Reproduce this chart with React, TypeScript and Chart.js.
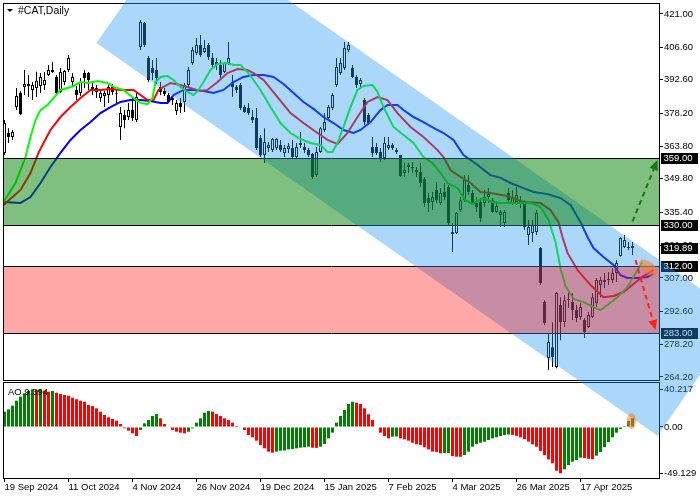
import React, { useEffect, useRef } from 'react';
import { Chart, registerables } from 'chart.js';

Chart.register(...registerables);

const FONT = 'Liberation Sans';

const dateLabels = ['19 Sep 2024', '11 Oct 2024', '4 Nov 2024', '26 Nov 2024', '19 Dec 2024', '15 Jan 2025', '7 Feb 2025', '4 Mar 2025', '26 Mar 2025', '17 Apr 2025'];
const dateTickBars = [0, 16, 32, 48, 64, 80, 96, 112, 128, 144];
const priceTicks = [421, 406.6, 392.6, 378.2, 363.8, 349.8, 335.4, 321, 307, 292.6, 278.2, 264.2];
const aoTicks = [40.217, 0, -49.129];

const opens = [
  361.0, 369.6, 367.9, 380.8, 386.9, 389.5, 390.8, 388.2, 389.0, 389.9,
  390.3, 394.6, 396.8, 393.8, 387.3, 391.6, 396.8, 391.6, 388.2, 386.9,
  395.5, 395.5, 389.5, 389.0, 384.7, 385.6, 386.0, 389.5, 387.0, 372.2,
  377.4, 376.5, 379.5, 375.2, 406.7, 417.1, 402.0, 397.7, 396.8, 389.5,
  387.7, 386.0, 384.7, 379.1, 382.6, 383.0, 390.3, 399.8, 404.2, 407.6,
  404.6, 407.6, 402.0, 400.3, 399.0, 395.9, 399.8, 391.6, 389.5, 390.3,
  380.8, 380.4, 376.5, 376.1, 367.4, 360.1, 363.1, 362.2, 363.1, 364.4,
  361.0, 362.7, 363.1, 359.2, 364.4, 363.5, 362.2, 360.5, 351.4, 361.4,
  370.9, 376.1, 380.4, 390.3, 395.5, 397.7, 405.4, 397.7, 393.8, 390.8,
  383.8, 377.4, 363.5, 363.5, 361.4, 358.8, 363.1, 364.4, 362.2, 360.1,
  352.3, 355.8, 354.9, 353.6, 352.7, 349.7, 341.5, 339.8, 345.0, 339.4,
  344.1, 346.3, 326.8, 326.4, 336.3, 340.6, 347.1, 343.7, 339.4, 339.8,
  339.4, 341.9, 340.6, 335.5, 334.2, 330.7, 343.7, 339.4, 339.8, 339.4,
  339.4, 325.5, 326.4, 326.8, 319.9, 296.6, 272.4, 277.1, 268.5, 295.3,
  287.9, 297.4, 296.6, 293.1, 290.1, 288.8, 285.8, 290.1, 296.1, 303.9,
  305.2, 306.1, 306.1, 309.1, 316.5, 320.3, 320.3, 320.8
];
const highs = [
  375.2, 371.7, 370.9, 389.0, 387.7, 396.8, 394.6, 391.6, 396.0, 395.5,
  395.9, 399.0, 400.3, 394.6, 397.7, 396.8, 403.3, 395.5, 389.9, 393.4,
  396.8, 395.9, 391.6, 390.3, 388.2, 387.7, 390.3, 390.8, 388.2, 380.8,
  379.5, 382.6, 385.1, 386.9, 418.4, 417.5, 402.9, 401.1, 402.0, 391.6,
  389.0, 386.9, 386.0, 383.8, 384.7, 391.2, 398.1, 406.7, 410.6, 411.9,
  409.8, 408.5, 404.2, 402.0, 401.1, 400.3, 408.9, 394.6, 390.3, 391.2,
  381.7, 382.6, 379.5, 380.4, 368.7, 371.7, 365.7, 367.4, 367.4, 366.6,
  364.4, 365.3, 366.6, 365.3, 370.0, 365.3, 363.1, 361.0, 363.5, 372.2,
  378.2, 381.7, 386.9, 402.0, 402.0, 408.9, 408.9, 399.0, 394.6, 393.4,
  384.7, 378.2, 367.9, 365.3, 363.1, 367.9, 367.9, 365.3, 363.1, 360.1,
  356.6, 356.6, 357.1, 354.9, 356.6, 350.6, 343.7, 344.1, 348.4, 345.8,
  348.0, 347.1, 330.7, 335.5, 341.9, 351.4, 351.4, 345.0, 341.9, 341.5,
  345.0, 345.8, 341.5, 339.4, 336.3, 336.3, 345.8, 345.0, 346.3, 342.4,
  340.6, 332.0, 332.0, 336.3, 320.3, 297.4, 283.2, 287.9, 301.0, 298.7,
  299.6, 301.8, 300.5, 295.3, 296.1, 289.7, 292.3, 300.5, 307.0, 307.4,
  309.1, 309.5, 311.3, 314.7, 324.6, 325.5, 322.5, 322.5
];
const lows = [
  360.1, 365.3, 366.6, 379.5, 377.4, 386.0, 385.1, 383.8, 385.1, 386.9,
  388.2, 394.2, 395.5, 386.4, 386.9, 390.3, 395.9, 389.9, 383.8, 385.6,
  389.0, 388.2, 386.0, 384.7, 383.0, 380.8, 382.6, 386.0, 382.6, 366.6,
  371.7, 375.2, 374.8, 374.3, 405.4, 406.7, 391.6, 392.5, 390.8, 386.0,
  385.6, 382.6, 381.7, 377.4, 378.2, 378.7, 389.5, 399.0, 403.3, 402.4,
  404.2, 401.1, 398.1, 396.8, 393.4, 395.5, 399.0, 385.1, 386.9, 379.5,
  378.2, 377.4, 373.9, 362.2, 359.2, 356.6, 361.4, 361.4, 362.2, 361.4,
  359.2, 361.0, 358.4, 358.8, 363.1, 361.0, 359.2, 349.7, 350.6, 361.0,
  370.0, 375.2, 379.5, 389.5, 394.6, 396.8, 404.6, 393.4, 389.0, 389.5,
  373.0, 373.0, 359.2, 360.1, 357.1, 357.9, 362.2, 362.2, 360.5, 350.6,
  350.6, 352.3, 352.3, 350.6, 346.3, 337.6, 335.5, 336.3, 339.4, 338.5,
  340.6, 329.8, 318.2, 326.0, 335.5, 339.8, 342.8, 338.5, 335.5, 331.1,
  337.6, 339.4, 335.0, 335.0, 329.0, 329.0, 339.4, 338.5, 338.5, 337.2,
  327.7, 321.2, 322.5, 325.5, 303.9, 286.6, 267.2, 268.5, 268.0, 280.1,
  285.8, 294.0, 288.8, 287.9, 288.8, 281.0, 285.4, 289.7, 294.4, 298.7,
  302.6, 303.9, 304.8, 305.2, 316.1, 319.9, 319.0, 316.9
];
const closes = [
  373.9, 367.9, 370.0, 385.6, 377.8, 390.8, 389.9, 390.3, 392.2, 393.8,
  392.5, 396.8, 395.9, 386.9, 395.9, 396.4, 402.0, 393.8, 386.0, 391.6,
  393.4, 392.5, 388.2, 387.3, 386.9, 386.9, 389.5, 387.3, 386.5, 378.2,
  375.2, 379.5, 376.0, 385.1, 417.5, 407.6, 392.5, 395.5, 393.4, 387.3,
  386.4, 383.0, 383.8, 382.6, 380.8, 390.3, 396.8, 405.4, 407.6, 403.3,
  406.3, 402.4, 399.0, 399.0, 394.6, 399.8, 402.0, 389.5, 388.2, 380.4,
  378.7, 378.2, 375.2, 363.1, 360.1, 365.7, 364.4, 367.0, 367.0, 362.2,
  363.1, 364.0, 359.2, 363.5, 365.3, 362.2, 360.1, 350.6, 361.4, 371.7,
  374.3, 380.8, 386.0, 398.1, 399.8, 406.3, 407.6, 393.8, 390.3, 392.5,
  374.3, 373.9, 361.0, 361.0, 358.8, 365.3, 364.4, 363.1, 361.4, 351.0,
  353.6, 354.9, 354.5, 352.7, 348.0, 339.4, 339.4, 341.9, 340.6, 343.7,
  341.9, 330.7, 326.0, 335.0, 340.6, 349.3, 344.1, 339.4, 337.6, 332.9,
  341.9, 343.2, 335.5, 338.1, 335.5, 335.5, 340.6, 341.9, 342.8, 340.6,
  329.0, 329.0, 329.8, 335.0, 304.8, 287.5, 279.3, 272.8, 300.5, 287.9,
  297.4, 298.0, 293.1, 289.7, 294.4, 283.6, 291.0, 298.7, 306.1, 306.1,
  306.1, 306.5, 309.1, 313.4, 324.2, 323.4, 319.9, 319.89
];

const aoValues = [
  16.3, 18.8, 22.7, 28.0, 32.3, 35.8, 38.6, 40.217, 39.4, 40.1,
  38.6, 37.6, 38.3, 36.5, 35.1, 34.0, 33.3, 31.2, 29.5, 28.0,
  26.9, 23.4, 22.3, 19.9, 16.3, 12.8, 10.3, 8.5, 6.7, 3.2,
  -1.4, -3.9, -6.7, -9.6, -3.2, 3.9, 7.4, 11.7, 13.8, 9.2,
  3.2, -0.5, -3.2, -5.0, -6.0, -6.7, -5.0, -1.4, 4.6, 9.2,
  15.2, 17.0, 16.3, 13.8, 11.7, 9.2, 7.4, 4.6, 1.1, -0.4,
  -3.2, -8.5,
  -11.0, -14.5, -19.1, -22.7, -26.2, -27.3, -26.2, -25.2, -25.0, -23.8,
  -23.5, -22.7, -22.0, -21.6, -20.9, -22.0, -22.2, -20.9, -18.1, -12.1,
  -6.0, 4.6, 11.7, 18.1, 24.5, 26.9, 25.9, 24.5, 19.9, 13.5,
  7.4, 0.5, -6.0, -9.6, -12.1, -10.3, -10.1, -12.1, -13.1, -14.5,
  -16.7, -18.4, -19.1, -21.6, -23.8, -26.2, -26.5, -28.0, -27.8, -27.6,
  -30.9, -31.6, -31.7, -29.8, -26.2, -20.9, -18.1, -16.7, -15.6, -13.8,
  -12.1, -11.0, -9.6,
  -8.6, -8.0, -8.4, -9.5, -11.0, -13.0, -15.5, -18.5, -21.0, -25.5,
  -30.0, -34.5, -38.6, -46.5, -49.129, -45.0, -40.4, -36.9, -35.1, -32.6,
  -33.0, -33.8, -34.2, -30.5, -26.5, -21.5, -16.0, -11.0, -6.0, -2.0,
  1.0, 6.5, 9.394
];

const lipsBars = [-0.25, 2.75, 5.25, 6.5, 7.75, 9, 10.75, 12.25, 14, 15.75, 17.25, 19, 20.75, 23.25, 25.75, 27.25, 29.75, 32.25, 34, 35.75, 37, 37.75, 39, 40.75, 42.25, 44, 45.75, 47.25, 48.5, 49.75, 51.5, 53.25, 55.75, 57.25, 59, 60.75, 62.25, 64, 66.5, 69, 71.5, 74, 76.5, 79, 80.75, 82, 83.25, 84.75, 86.5, 88.25, 89.75, 92, 93.25, 94.75, 97.25, 99.75, 102.25, 104.75, 107, 109, 110.75, 113.25, 115.25, 117, 119.5, 122, 124, 126.5, 129, 131.5, 134, 136, 137.75, 139, 140.25, 142.25, 144.75, 147.25, 149, 150.75, 153.25, 155.75, 158.25, 159.5];
const lipsPrices = [339.8, 348.0, 359.2, 367.9, 375.2, 379.5, 381.7, 384.7, 388.2, 389.0, 389.9, 391.6, 391.2, 392.1, 391.2, 389.5, 388.2, 384.7, 382.6, 382.1, 384.7, 391.6, 393.8, 394.2, 392.5, 389.5, 387.3, 386.0, 388.2, 391.6, 396.8, 399.4, 399.8, 399.0, 399.0, 395.9, 392.5, 388.2, 380.8, 373.9, 369.6, 367.0, 365.3, 364.4, 361.4, 361.4, 365.3, 372.2, 380.8, 388.2, 389.9, 390.3, 387.3, 380.8, 372.2, 368.7, 365.3, 359.2, 356.6, 352.3, 348.0, 345.8, 340.6, 338.9, 341.5, 339.8, 339.4, 339.4, 339.4, 339.4, 337.6, 332.0, 322.5, 311.3, 303.5, 297.9, 296.6, 294.4, 293.1, 295.3, 298.7, 303.1, 310.4, 313.9];

const teethBars = [-0.25, 4, 6.5, 8.5, 9.75, 11.5, 14, 16.5, 19, 21.5, 24, 26.5, 29, 32.25, 34, 35.75, 37.25, 38.5, 39.75, 41.5, 44, 46.5, 49, 50.75, 53.25, 55.75, 58.25, 60.75, 62.25, 64.75, 68.25, 71.5, 74.75, 78.25, 80.75, 83.25, 85.75, 88.25, 90.75, 93.25, 95.75, 98.25, 101.5, 104.75, 108.25, 109.75, 111.5, 114, 116.5, 119, 121.5, 125.75, 129.75, 134, 136.5, 138.5, 139.5, 140.75, 143.25, 146.5, 149.75, 152.25, 154.75, 157.25, 159.75, 162.25];
const teethPrices = [338.5, 345.0, 352.3, 361.0, 365.3, 370.9, 376.5, 380.8, 384.7, 388.2, 388.2, 388.6, 388.2, 388.2, 386.0, 383.8, 383.8, 388.2, 389.5, 391.2, 390.3, 389.0, 387.7, 388.2, 391.6, 395.5, 397.2, 396.8, 395.5, 392.5, 385.1, 378.2, 373.9, 369.6, 366.6, 364.8, 369.6, 376.5, 383.0, 385.1, 383.8, 378.2, 372.2, 367.9, 362.2, 359.2, 353.6, 350.6, 348.0, 344.1, 343.7, 342.4, 339.8, 339.4, 336.3, 331.1, 324.7, 317.8, 310.4, 303.9, 298.7, 299.2, 300.9, 304.4, 307.8, 310.4];

const jawBars = [-0.25, 4, 6.5, 9, 11.5, 14, 16.5, 19, 21.5, 24, 26.5, 29, 31.5, 34, 36.5, 39, 40.75, 42.25, 44.75, 47.25, 49.75, 52.25, 54.75, 57.25, 59.75, 62.25, 64.75, 67.25, 69.75, 72.25, 74.75, 77.25, 79.75, 82.25, 84.75, 87.25, 89, 91.5, 94, 95.75, 98.25, 99.75, 102.25, 104.75, 107.25, 109.75, 112.25, 114.75, 118.25, 121.5, 124, 126.5, 129.75, 132.25, 135.75, 139, 141.5, 144, 145.75, 147.25, 149.75, 152.25, 154, 155.75, 158.25, 160.75, 162.25];
const jawPrices = [339.8, 339.4, 341.9, 348.0, 354.9, 361.0, 366.6, 370.9, 374.3, 378.2, 380.8, 383.0, 383.8, 383.8, 383.4, 382.6, 382.6, 386.0, 388.2, 388.2, 387.7, 386.9, 388.2, 391.6, 393.8, 394.6, 394.6, 393.8, 390.8, 386.9, 383.0, 380.0, 376.5, 373.9, 370.9, 369.6, 370.9, 374.3, 379.5, 381.7, 381.7, 379.5, 376.5, 374.3, 371.8, 369.6, 366.6, 360.1, 355.8, 351.4, 350.2, 348.0, 345.8, 344.1, 343.2, 341.5, 338.5, 331.1, 324.7, 319.9, 316.0, 312.6, 308.2, 307.0, 307.0, 307.4, 308.7];

const levelPrices = [359, 330, 312, 283];
const bidPrice = 319.89;
const greenZone = [330, 359];
const redZone = [283, 312];
const channelBars = [23, 43.75, 184, 163.25];
const channelPrices = [408.5, 459.9, 290.2, 238.8];
const upArrowBars = [157, 163.25];
const upArrowPrices = [331.4, 357.9];
const downArrowBars = [157.75, 162.75];
const downArrowPrices = [314.7, 284.5];
const markBar = 161;
const markPrice = 311.3;
const aoMarkBar = 156.75;
const aoMarkValue = 6.4;

const pts = (bars: number[], vals: number[]) =>
  bars.slice(0, Math.min(bars.length, vals.length)).map((b, i) => ({ x: b, y: vals[i] }));

const overlayPlugin = {
  id: 'mt4overlays',
  afterDraw(chart: any) {
    const { ctx, chartArea: ca, scales } = chart;
    const xs = scales.x, ys = scales.y, ao = scales.yAO;
    const px = (b: number) => xs.getPixelForValue(b);
    const py = (p: number) => ys.getPixelForValue(p);
    const pa = (v: number) => ao.getPixelForValue(v);
    const L = Math.floor(ca.left) + 0.5;
    const R = Math.floor(ca.right) + 0.5;
    ctx.save();
    ctx.setLineDash([]);
    ctx.lineWidth = 1;
    ctx.strokeStyle = '#000';
    // panel frames
    const mTop = Math.floor(ys.top) + 0.5;
    const mBot = Math.floor(ys.bottom) - 0.5;
    const aTop = Math.floor(ao.top) + 1.5;
    const aBot = Math.floor(ao.bottom) + 0.5;
    ctx.strokeRect(L, mTop, R - L, mBot - mTop);
    ctx.strokeRect(L, aTop, R - L, aBot - aTop);
    // horizontal level lines
    levelPrices.forEach((v) => {
      const yy = Math.round(py(v)) + 0.5;
      ctx.beginPath();
      ctx.moveTo(L, yy);
      ctx.lineTo(R, yy);
      ctx.stroke();
    });
    // price boxes on axis
    ctx.font = `9.5px "${FONT}"`;
    ctx.textBaseline = 'middle';
    ctx.textAlign = 'left';
    [...levelPrices, bidPrice].forEach((v) => {
      const yy = Math.round(py(v));
      ctx.fillStyle = '#000';
      ctx.fillRect(R + 1.5, yy - 5, 37, 11);
      ctx.fillStyle = '#fff';
      ctx.fillText(v.toFixed(2), R + 4, yy + 0.5);
    });
    // title
    ctx.fillStyle = '#000';
    ctx.beginPath();
    ctx.moveTo(7, 9);
    ctx.lineTo(13, 9);
    ctx.lineTo(10, 12);
    ctx.closePath();
    ctx.fill();
    ctx.font = `10.5px "${FONT}"`;
    ctx.fillText('#CAT,Daily', 18, 11);
    ctx.font = `9.5px "${FONT}"`;
    ctx.fillText('AO ' + aoValues[aoValues.length - 1].toFixed(3), 8, Math.round(ao.top) + 11);

    // translucent overlays
    ctx.fillStyle = 'rgba(38,151,243,0.39)';
    ctx.beginPath();
    channelBars.forEach((b, i) => {
      const X = px(b), Y = py(channelPrices[i]);
      if (i === 0) ctx.moveTo(X, Y); else ctx.lineTo(X, Y);
    });
    ctx.closePath();
    ctx.fill();
    const zone = (z: number[], color: string) => {
      const y0 = Math.round(py(z[1])) + 1, y1 = Math.round(py(z[0]));
      ctx.fillStyle = color;
      ctx.fillRect(Math.floor(ca.left) + 1, y0, Math.floor(ca.right) - Math.floor(ca.left) - 1, y1 - y0);
    };
    zone(greenZone, 'rgba(0,128,0,0.5)');
    zone(redZone, 'rgba(255,0,0,0.34)');

    // arrows
    const arrow = (bars: number[], prices: number[], color: string) => {
      const x0 = px(bars[0]), y0 = py(prices[0]);
      const x1 = px(bars[1]), y1 = py(prices[1]);
      const ang = Math.atan2(y1 - y0, x1 - x0);
      const head = 10, hw = 4.5;
      const bx = x1 - head * Math.cos(ang), by = y1 - head * Math.sin(ang);
      ctx.strokeStyle = color;
      ctx.lineWidth = 2;
      ctx.setLineDash([5, 4]);
      ctx.beginPath();
      ctx.moveTo(x0, y0);
      ctx.lineTo(bx, by);
      ctx.stroke();
      ctx.setLineDash([]);
      ctx.fillStyle = color;
      ctx.beginPath();
      ctx.moveTo(x1, y1);
      ctx.lineTo(bx + hw * Math.sin(ang), by - hw * Math.cos(ang));
      ctx.lineTo(bx - hw * Math.sin(ang), by + hw * Math.cos(ang));
      ctx.closePath();
      ctx.fill();
    };
    arrow(upArrowBars, upArrowPrices, '#137a13');
    arrow(downArrowBars, downArrowPrices, '#ff1e1e');

    // highlight ellipses
    ctx.fillStyle = 'rgba(250,120,40,0.55)';
    ctx.beginPath();
    ctx.ellipse(px(markBar), py(markPrice), 11, 6, 0.68, 0, Math.PI * 2);
    ctx.fill();
    ctx.beginPath();
    ctx.ellipse(px(aoMarkBar), pa(aoMarkValue), 4.5, 8, 0, 0, Math.PI * 2);
    ctx.fill();
    ctx.restore();
  },
};

export default function App() {
  const ref = useRef<HTMLCanvasElement | null>(null);
  useEffect(() => {
    if (!ref.current) return;
    const bodyColors = opens.map((o, i) => (closes[i] >= o ? '#ffffff' : '#000000'));
    const aoColors = aoValues.map((v, i) => (i === 0 || v > aoValues[i - 1] ? '#008000' : '#ff0000'));
    const tickFont = { family: FONT, size: 9.5 };
    const chart = new Chart(ref.current, {
      type: 'bar',
      data: {
        datasets: [
          { type: 'line', label: 'Lips', data: pts(lipsBars, lipsPrices), borderColor: '#00ff00', borderWidth: 2, pointRadius: 0, tension: 0, yAxisID: 'y', order: 0 } as any,
          { type: 'line', label: 'Teeth', data: pts(teethBars, teethPrices), borderColor: '#ff0000', borderWidth: 2, pointRadius: 0, tension: 0, yAxisID: 'y', order: 0 } as any,
          { type: 'line', label: 'Jaw', data: pts(jawBars, jawPrices), borderColor: '#0000ff', borderWidth: 2, pointRadius: 0, tension: 0, yAxisID: 'y', order: 0 } as any,
          {
            type: 'bar', label: 'Body',
            data: opens.map((o, i) => ({ x: i, y: [Math.min(o, closes[i]), Math.max(o, closes[i])] })),
            backgroundColor: bodyColors, borderColor: '#000', borderWidth: 1, borderSkipped: false,
            barThickness: 3, maxBarThickness: 3, minBarLength: 1, grouped: false, inflateAmount: 0, yAxisID: 'y', order: 1,
          } as any,
          {
            type: 'bar', label: 'Wick',
            data: lows.map((l, i) => ({ x: i, y: [l, highs[i]] })),
            backgroundColor: '#000', borderWidth: 0, barThickness: 1, maxBarThickness: 1, grouped: false, inflateAmount: 0, yAxisID: 'y', order: 2,
          } as any,
          {
            type: 'bar', label: 'AO',
            data: aoValues.map((v, i) => ({ x: i, y: v })),
            backgroundColor: aoColors, borderWidth: 0, barThickness: 3, maxBarThickness: 3, grouped: false, inflateAmount: 0, yAxisID: 'yAO', order: 3,
          } as any,
        ],
      },
      options: {
        animation: false,
        responsive: false,
        events: [],
        layout: { padding: { left: 3, top: 3, right: 0, bottom: 0 } },
        plugins: { legend: { display: false }, tooltip: { enabled: false }, title: { display: false } },
        scales: {
          x: {
            type: 'linear', min: -0.375, max: 163.625, offset: false,
            grid: { display: true, offset: false, drawOnChartArea: false, drawTicks: true, tickLength: 4, color: '#000' },
            border: { display: false },
            ticks: { align: 'start', maxRotation: 0, minRotation: 0, autoSkip: false, padding: 0, color: '#000', font: tickFont, callback: (_v: any, i: number) => dateLabels[i] },
            afterBuildTicks: (s: any) => { s.ticks = dateTickBars.map((v) => ({ value: v })); },
            afterFit: (s: any) => { s.height = 22; s.paddingLeft = 0; s.paddingRight = 0; },
          },
          y: {
            type: 'linear', position: 'right', stack: 'panes', stackWeight: 378, min: 262.47, max: 425.75,
            grid: { display: true, drawOnChartArea: false, drawTicks: true, tickLength: 4, color: '#000' },
            border: { display: false },
            ticks: { autoSkip: false, padding: 1, color: '#000', font: tickFont, callback: (v: any) => Number(v).toFixed(2) },
            afterBuildTicks: (s: any) => { s.ticks = priceTicks.map((v) => ({ value: v })); },
            afterFit: (s: any) => { s.width = 41; s.paddingTop = 0; s.paddingBottom = 0; },
          },
          yAO: {
            type: 'linear', position: 'right', stack: 'panes', stackWeight: 97, min: -54.26, max: 48.94,
            grid: { display: true, drawOnChartArea: false, drawTicks: true, tickLength: 4, color: '#000' },
            border: { display: false },
            ticks: { autoSkip: false, padding: 1, color: '#000', font: tickFont, callback: (v: any) => (Number(v) === 0 ? '0.00' : String(v)) },
            afterBuildTicks: (s: any) => { s.ticks = aoTicks.map((v) => ({ value: v })); },
            afterFit: (s: any) => { s.width = 41; s.paddingTop = 0; s.paddingBottom = 0; },
          },
        },
      } as any,
      plugins: [overlayPlugin],
    });
    return () => chart.destroy();
  }, []);
  return (
    <div style={{ position: 'fixed', left: 0, top: 0, width: 700, height: 500, background: '#fff' }}>
      <canvas ref={ref} width={700} height={500} style={{ display: 'block' }} />
    </div>
  );
}
